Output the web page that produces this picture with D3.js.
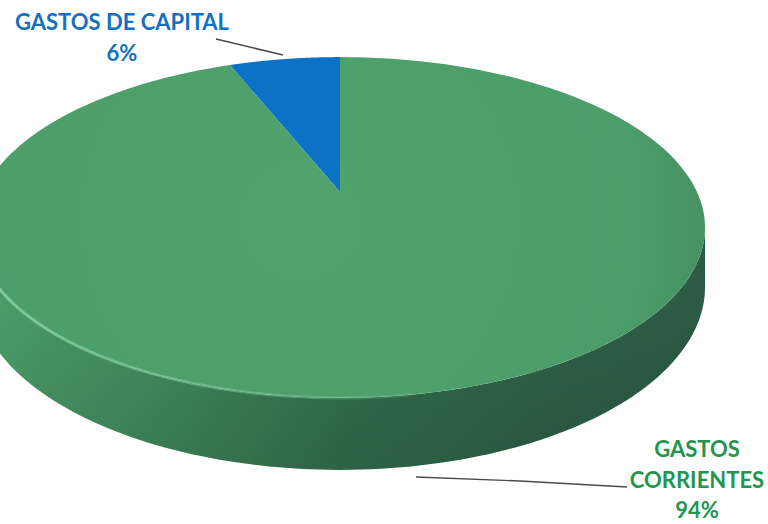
<!DOCTYPE html>
<html>
<head>
<meta charset="utf-8">
<script src="https://cdn.jsdelivr.net/npm/d3@7"></script>
<style>
  html, body { margin: 0; padding: 0; background: #ffffff; }
  svg { display: block; }
</style>
</head>
<body>
<svg id="chart" width="768" height="524"></svg>
<script>
// Budget split: capital vs current spending
const categories = ["GASTOS DE CAPITAL", "GASTOS CORRIENTES"];
const values = [6, 94];
const labelLines = [["GASTOS DE CAPITAL", "6%"], ["GASTOS", "CORRIENTES", "94%"]];
const sliceColors = ["#0b72c6", "#4ea16b"];
const labelColors = ["#1470c0", "#23964d"];

const svg = d3.select("#chart");
const defs = svg.append("defs");

// Perspective projection of the pie disc (u right, v toward viewer)
const cx = 340, cy = 192;   // projected pie centre
const A = 357, B = 163;     // horizontal / vertical scale
const k = 0.2083;           // perspective strength
const depth = 57;           // wall thickness before perspective scaling

function project(a, r, drop) {
  const u = r * Math.sin(a), v = -r * Math.cos(a);
  const w = 1 - k * v;
  return [cx + A * u / w, cy + (B * v + (drop || 0)) / w];
}

const pie = d3.pie().sort(null)
  .startAngle(-2 * Math.PI * values[0] / d3.sum(values))
  .endAngle(2 * Math.PI - 2 * Math.PI * values[0] / d3.sum(values));
const arcs = pie(values);

function rim(a0, a1, drop, n) {
  const pts = [];
  for (let i = 0; i <= n; i++) pts.push(project(a0 + (a1 - a0) * i / n, 1, drop));
  return pts;
}
const line = d3.line();

// Wall gradient: lit on the left, shading into deep green on the right
const wallGrad = defs.append("linearGradient").attr("id", "wallGrad")
  .attr("gradientUnits", "userSpaceOnUse").attr("x1", -20).attr("y1", 0).attr("x2", 710).attr("y2", 0);
[[0, "#4c9e69"], [0.25, "#3f8a5c"], [0.5, "#336f4e"], [0.75, "#2e6247"], [1, "#2c5a43"]]
  .forEach(([o, c]) => wallGrad.append("stop").attr("offset", o).attr("stop-color", c));

const wallShade = defs.append("linearGradient").attr("id", "wallShade")
  .attr("gradientUnits", "userSpaceOnUse").attr("x1", 0).attr("y1", 300).attr("x2", 0).attr("y2", 470);
wallShade.append("stop").attr("offset", 0).attr("stop-color", "#000").attr("stop-opacity", 0);
wallShade.append("stop").attr("offset", 1).attr("stop-color", "#000").attr("stop-opacity", 0.12);

// Top face gradient
const topGrad = defs.append("radialGradient").attr("id", "topGrad")
  .attr("gradientUnits", "userSpaceOnUse").attr("cx", 300).attr("cy", 220).attr("r", 420);
topGrad.append("stop").attr("offset", 0).attr("stop-color", "#50a46e");
topGrad.append("stop").attr("offset", 0.8).attr("stop-color", "#4c9d69");
topGrad.append("stop").attr("offset", 1).attr("stop-color", "#468f61");

// Rim highlight, bright on the left and fading to the right
const rimGrad = defs.append("linearGradient").attr("id", "rimGrad")
  .attr("gradientUnits", "userSpaceOnUse").attr("x1", 0).attr("y1", 0).attr("x2", 560).attr("y2", 0);
rimGrad.append("stop").attr("offset", 0).attr("stop-color", "#8fd6a6").attr("stop-opacity", 0.75);
rimGrad.append("stop").attr("offset", 0.6).attr("stop-color", "#7cc796").attr("stop-opacity", 0.35);
rimGrad.append("stop").attr("offset", 1).attr("stop-color", "#6fbf8a").attr("stop-opacity", 0);

// Outer wall (front half, between silhouette tangent points)
const aRight = Math.acos(-k), aLeft = 2 * Math.PI - Math.acos(-k);
const topFront = rim(aRight, aLeft, 0, 120);
const botFront = rim(aLeft, aRight, depth, 120);
const wallPts = topFront.concat(botFront);
svg.append("path").attr("d", line(wallPts) + "Z").attr("fill", "url(#wallGrad)");
svg.append("path").attr("d", line(wallPts) + "Z").attr("fill", "url(#wallShade)");

// Top face slices
arcs.forEach((d, i) => {
  const pts = [project(0, 0)].concat(rim(d.startAngle, d.endAngle, 0, 200));
  svg.append("path").attr("d", line(pts) + "Z")
    .attr("fill", i === 1 ? "url(#topGrad)" : sliceColors[i]);
});

// Highlight along the front edge of the top face
svg.append("path").attr("d", line(rim(aLeft - 0.2, Math.PI * 0.95, 0, 80)))
  .attr("fill", "none").attr("stroke", "url(#rimGrad)").attr("stroke-width", 3);

// Leader lines
svg.append("path").attr("d", line([[216, 39], [283, 55]]))
  .attr("stroke", "#4a4a4a").attr("stroke-width", 1.6).attr("fill", "none");
svg.append("path").attr("d", line([[416, 477], [520, 481], [627, 487]]))
  .attr("stroke", "#4a4a4a").attr("stroke-width", 1.4).attr("fill", "none");

// Labels
const labelPos = [{x: 122, y: 30}, {x: 697, y: 457}];
labelLines.forEach((lines, i) => {
  const t = svg.append("text")
    .attr("x", labelPos[i].x).attr("y", labelPos[i].y)
    .attr("text-anchor", "middle")
    .attr("font-family", "Lato, 'Open Sans', sans-serif")
    .attr("font-weight", "bold")
    .attr("font-size", 22)
    .attr("fill", labelColors[i]);
  lines.forEach((s, j) => {
    t.append("tspan").attr("x", labelPos[i].x).attr("dy", j === 0 ? 0 : 30.5).text(s);
  });
});
</script>
</body>
</html>
